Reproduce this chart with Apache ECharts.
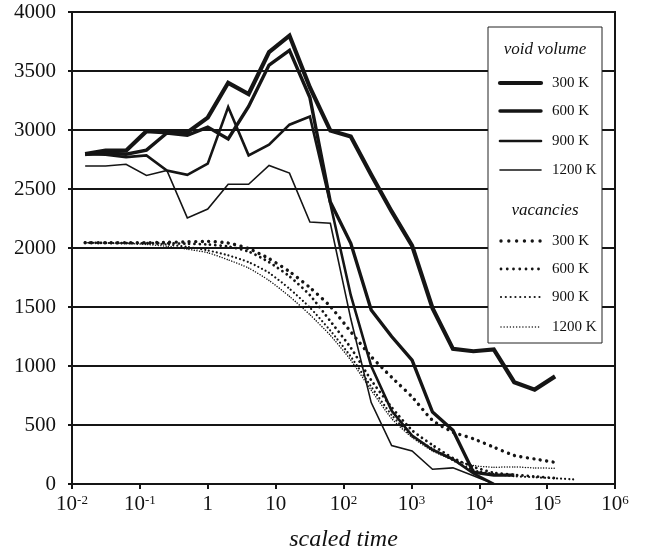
<!DOCTYPE html>
<html>
<head>
<meta charset="utf-8">
<script src="https://cdn.jsdelivr.net/npm/echarts@6/dist/echarts.min.js"></script>
<style>
  html, body { margin: 0; padding: 0; background: #fff; }
  #chart { width: 646px; height: 550px; }
</style>
</head>
<body>
<div id="chart"></div>
<script>
// scaled time of each sample
var times = [0.015625, 0.03125, 0.0625, 0.125, 0.25, 0.5, 1, 2, 4, 8, 16, 32, 64,
  128, 256, 512, 1024, 2048, 4096, 8192, 16384, 32768, 65536, 131072, 262144];

// void volume
var void300 = [2795, 2825, 2825, 2990, 2980, 2980, 3105, 3400, 3305, 3660, 3800, 3360, 2995,
  2945, 2620, 2310, 2020, 1490, 1145, 1125, 1140, 863, 800, 912];
var void600 = [2795, 2805, 2795, 2830, 2975, 2955, 3025, 2925, 3200, 3550, 3675, 3275, 2390,
  2040, 1475, 1250, 1050, 610, 455, 100, 75, 75];
var void900 = [2795, 2790, 2770, 2785, 2657, 2620, 2715, 3195, 2785, 2875, 3045, 3115, 2375,
  1600, 1000, 620, 410, 290, 210, 90, 0];
var void1200 = [2695, 2695, 2710, 2615, 2657, 2255, 2330, 2540, 2540, 2700, 2635, 2220, 2210,
  1400, 690, 326, 280, 125, 137, 70, 0];

// vacancies
var vac300 = [2045, 2045, 2045, 2045, 2048, 2052, 2056, 2042, 1995, 1910, 1800, 1665, 1505,
  1290, 1080, 905, 738, 540, 440, 383, 312, 242, 212, 183];
var vac600 = [2045, 2043, 2042, 2042, 2040, 2036, 2030, 2012, 1970, 1880, 1760, 1600, 1380,
  1155, 880, 650, 455, 330, 220, 145, 95, 78, 64, 50];
var vac900 = [2045, 2043, 2040, 2038, 2030, 2010, 1980, 1938, 1880, 1790, 1655, 1495, 1300,
  1080, 825, 585, 405, 300, 200, 118, 86, 66, 57, 48, 38];
var vac1200 = [2045, 2042, 2038, 2030, 2015, 1990, 1960, 1900, 1830, 1725, 1590, 1435, 1260,
  1050, 795, 555, 395, 280, 205, 157, 142, 145, 136, 134];

var tempLabels = ['300 K', '600 K', '900 K', '1200 K'];
var voidData = [void300, void600, void900, void1200];
var vacData = [vac300, vac600, vac900, vac1200];

var FONT = '"Liberation Serif", "DejaVu Serif", serif';
var INK = '#151515';
var voidWidths = [4.2, 3.4, 2.6, 1.6];
var vacWidths = [3.4, 2.8, 2.2, 1.5];
var vacGaps = [6.5, 5.2, 4, 2.6];

function pairs(vals) {
  return vals.map(function (v, i) { return [times[i], v]; });
}

var chart = echarts.init(document.getElementById('chart'));
var series = [];
voidData.forEach(function (vals, i) {
  series.push({
    name: 'void ' + tempLabels[i],
    type: 'line',
    data: pairs(vals),
    showSymbol: false,
    silent: true,
    z: 3,
    lineStyle: { color: INK, width: voidWidths[i], join: 'miter' }
  });
});
vacData.forEach(function (vals, i) {
  series.push({
    name: 'vac ' + tempLabels[i],
    type: 'line',
    data: pairs(vals),
    showSymbol: false,
    silent: true,
    smooth: 0.2,
    z: 2,
    lineStyle: { color: INK, width: vacWidths[i], type: [0.01, vacGaps[i]], cap: 'round' }
  });
});

// legend drawn as graphic
var boxL = 488, boxT = 27, boxW = 114, boxH = 316;
var legend = [{
  type: 'rect', shape: { x: boxL, y: boxT, width: boxW, height: boxH },
  style: { fill: '#fff', stroke: '#222', lineWidth: 1 }, z: 10
}, {
  type: 'text', x: boxL + boxW / 2, y: 50,
  style: { text: 'void volume', font: 'italic 17px ' + FONT, fill: '#111', align: 'center', verticalAlign: 'middle' }, z: 11
}, {
  type: 'text', x: boxL + boxW / 2, y: 211,
  style: { text: 'vacancies', font: 'italic 17px ' + FONT, fill: '#111', align: 'center', verticalAlign: 'middle' }, z: 11
}];
var voidRows = [83, 111, 141, 170];
var vacRows = [241, 269, 297, 327];
tempLabels.forEach(function (lab, i) {
  legend.push({
    type: 'line', shape: { x1: 500, y1: voidRows[i], x2: 541, y2: voidRows[i] },
    style: { stroke: INK, lineWidth: voidWidths[i], lineCap: 'round' }, z: 11
  });
  legend.push({
    type: 'text', x: 552, y: voidRows[i],
    style: { text: lab, font: '15px ' + FONT, fill: '#111', verticalAlign: 'middle' }, z: 11
  });
  legend.push({
    type: 'line', shape: { x1: 501, y1: vacRows[i], x2: 541, y2: vacRows[i] },
    style: { stroke: INK, lineWidth: vacWidths[i], lineDash: [0.01, vacGaps[i] * 1.2], lineCap: 'round' }, z: 11
  });
  legend.push({
    type: 'text', x: 552, y: vacRows[i],
    style: { text: lab, font: '15px ' + FONT, fill: '#111', verticalAlign: 'middle' }, z: 11
  });
});

var option = {
  animation: false,
  backgroundColor: '#fff',
  grid: {
    left: 72, right: 31, top: 12, bottom: 66,
    containLabel: false,
    outerBoundsMode: 'none',
    show: true, borderColor: INK, borderWidth: 2, backgroundColor: 'transparent'
  },
  xAxis: {
    type: 'log',
    logBase: 10,
    min: 0.01,
    max: 1000000,
    splitNumber: 8,
    name: 'scaled time',
    nameLocation: 'middle',
    nameGap: 44,
    nameTextStyle: { fontFamily: FONT, fontStyle: 'italic', fontSize: 24, color: '#111' },
    axisLine: { lineStyle: { color: INK, width: 2 } },
    axisTick: { show: true, inside: false, length: 5, lineStyle: { color: INK, width: 2 } },
    minorTick: { show: false },
    splitLine: { show: false },
    axisLabel: {
      color: '#111',
      fontFamily: FONT,
      fontSize: 21,
      margin: 10,
      formatter: function (v) {
        var e = Math.round(Math.log10(v));
        if (e === 0) return '1';
        if (e === 1) return '10';
        return '10{sup|' + e + '}';
      },
      rich: {
        sup: { fontFamily: FONT, fontSize: 13, color: '#111', verticalAlign: 'top' }
      }
    }
  },
  yAxis: {
    type: 'value',
    min: 0,
    max: 4000,
    interval: 500,
    axisLine: { show: true, lineStyle: { color: INK, width: 2 } },
    axisTick: { show: true, length: 4, lineStyle: { color: INK, width: 2 } },
    splitLine: { show: true, lineStyle: { color: INK, width: 2 } },
    axisLabel: {
      color: '#111', fontFamily: FONT, fontSize: 21, margin: 16,
      formatter: function (v) { return String(v); }
    }
  },
  series: series,
  graphic: legend
};

option && chart.setOption(option);
</script>
</body>
</html>
